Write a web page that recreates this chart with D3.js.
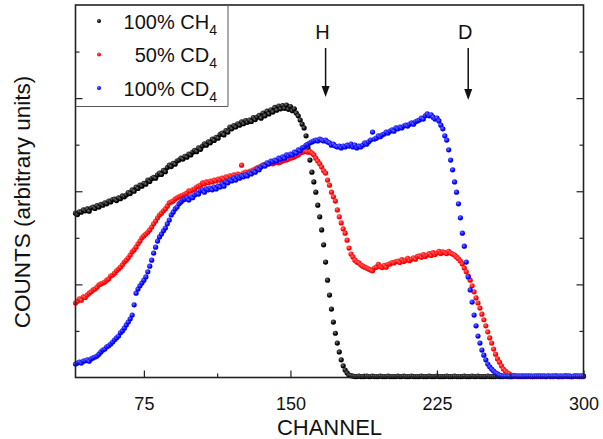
<!DOCTYPE html>
<html>
<head>
<meta charset="utf-8">
<script src="https://cdn.jsdelivr.net/npm/d3@7"></script>
<style>
  body { margin: 0; background: #fff; }
  svg { display: block; }
  text { font-family: "Liberation Sans", Arial, Helvetica, sans-serif; fill: #111; }
</style>
</head>
<body>
<svg id="chart" width="603" height="439"></svg>
<script>
// Spectra: one count value per channel, starting at channel 40.
const firstChannel = 40;

// 100% CH4
const countsCH4 = [
  3.53,3.50,3.56,3.55,3.60,3.58,3.62,3.57,3.64,3.66,
  3.63,3.69,3.66,3.72,3.70,3.75,3.73,3.79,3.77,3.82,
  3.83,3.80,3.86,3.84,3.90,3.88,3.92,3.97,3.95,4.03,
  4.00,4.09,4.06,4.13,4.11,4.17,4.15,4.24,4.21,4.27,
  4.30,4.28,4.35,4.39,4.36,4.45,4.42,4.51,4.56,4.53,
  4.60,4.58,4.65,4.67,4.71,4.69,4.75,4.73,4.80,4.78,
  4.84,4.88,4.85,4.93,4.90,4.97,5.02,4.99,5.06,5.04,
  5.12,5.09,5.16,5.14,5.22,5.25,5.21,5.30,5.27,5.38,
  5.34,5.41,5.38,5.45,5.42,5.49,5.45,5.52,5.48,5.53,
  5.50,5.58,5.54,5.59,5.63,5.57,5.68,5.62,5.72,5.66,
  5.75,5.70,5.80,5.74,5.83,5.77,5.84,5.78,5.85,5.76,
  5.82,5.73,5.77,5.68,5.62,5.53,5.44,5.36,5.19,4.93,
  4.67,4.41,4.20,3.98,3.70,3.45,3.17,2.85,2.48,2.09,
  1.77,1.47,1.19,0.95,0.74,0.55,0.38,0.25,0.16,0.10,
  0.05,0.04,0.03,0.02,0.02,0.03,0.02,0.02,0.02,0.03,
  0.02,0.02,0.03,0.02,0.02,0.02,0.03,0.02,0.02,0.02,
  0.03,0.02,0.02,0.02,0.02,0.03,0.02,0.02,0.03,0.02,
  0.02,0.02,0.03,0.02,0.02,0.02,0.02,0.03,0.02,0.02,
  0.02,0.03,0.02,0.02,0.02,0.03,0.02,0.02,0.02,0.02,
  0.03,0.02,0.02,0.02,0.03,0.02,0.02,0.02,0.02,0.03,
  0.02,0.02,0.02,0.03,0.02,0.02,0.03,0.02,0.02,0.02,
  0.02,0.03,0.02,0.02,0.02,0.02,0.03,0.02,0.02,0.02,
  0.03,0.02,0.02,0.02,0.02,0.03,0.02,0.02,0.02,0.03,
  0.02,0.02,0.03,0.02,0.02,0.02,0.02,0.03,0.02,0.02,
  0.02,0.02,0.03,0.02,0.02,0.02,0.03,0.02,0.02,0.02,
  0.02,0.03,0.02,0.02,0.02,0.02,0.03,0.02,0.02,0.02,
  0.02
];

// 50% CD4
const countsCD4Half = [
  1.60,1.64,1.69,1.66,1.73,1.72,1.77,1.81,1.84,1.88,
  1.90,1.94,1.99,2.01,2.03,2.05,2.09,2.12,2.18,2.20,
  2.24,2.29,2.33,2.37,2.42,2.48,2.52,2.57,2.63,2.70,
  2.74,2.80,2.87,2.93,3.00,3.04,3.08,3.12,3.17,3.23,
  3.30,3.36,3.43,3.49,3.53,3.58,3.62,3.68,3.75,3.77,
  3.79,3.83,3.86,3.88,3.90,3.92,3.94,3.96,4.01,4.00,
  4.03,4.05,4.09,4.11,4.13,4.18,4.16,4.20,4.18,4.22,
  4.20,4.24,4.22,4.26,4.24,4.28,4.26,4.31,4.28,4.33,
  4.31,4.35,4.33,4.37,4.35,4.56,4.39,4.41,4.39,4.43,
  4.44,4.46,4.48,4.50,4.52,4.54,4.56,4.57,4.58,4.59,
  4.61,4.59,4.61,4.63,4.61,4.63,4.65,4.67,4.67,4.69,
  4.71,4.72,4.74,4.76,4.78,4.82,4.84,4.85,4.86,4.84,
  4.85,4.82,4.78,4.71,4.65,4.59,4.52,4.44,4.39,4.24,
  4.13,3.98,3.88,3.79,3.60,3.45,3.32,3.19,3.10,2.95,
  2.78,2.65,2.59,2.52,2.48,2.46,2.42,2.39,2.37,2.35,
  2.33,2.31,2.29,2.35,2.37,2.43,2.38,2.36,2.41,2.37,
  2.43,2.44,2.47,2.46,2.49,2.50,2.47,2.53,2.49,2.52,
  2.56,2.51,2.54,2.57,2.54,2.60,2.61,2.58,2.64,2.60,
  2.63,2.66,2.62,2.68,2.64,2.67,2.71,2.66,2.70,2.68,
  2.66,2.71,2.67,2.65,2.63,2.59,2.55,2.50,2.44,2.35,
  2.27,2.18,2.09,1.97,1.84,1.71,1.60,1.49,1.36,1.24,
  1.11,0.98,0.85,0.74,0.61,0.50,0.40,0.33,0.25,0.18,
  0.14,0.10,0.08,0.05,0.04,0.03,0.03,0.03,0.03,0.03,
  0.03,0.03,0.02,0.03,0.03,0.03,0.03,0.02,0.03,0.03,
  0.03,0.03,0.03,0.02,0.03,0.03,0.03,0.03,0.03,0.02,
  0.03,0.03,0.03,0.03,0.02,0.03,0.03,0.03,0.03,0.03,
  0.03
];

// 100% CD4
const countsCD4Full = [
  0.29,0.31,0.33,0.31,0.35,0.36,0.38,0.35,0.40,0.42,
  0.44,0.46,0.50,0.55,0.59,0.61,0.66,0.68,0.72,0.76,
  0.81,0.85,0.89,0.96,1.00,1.06,1.13,1.19,1.26,1.34,
  1.56,1.81,1.90,1.97,2.03,2.09,2.16,2.27,2.39,2.52,
  2.67,2.80,2.93,3.02,3.08,3.15,3.21,3.30,3.38,3.49,
  3.55,3.62,3.66,3.73,3.77,3.81,3.83,3.86,3.81,3.88,
  3.86,3.92,3.96,3.94,4.01,4.03,3.98,4.05,4.03,4.07,
  4.03,4.09,4.05,4.11,4.09,4.16,4.11,4.20,4.18,4.24,
  4.22,4.28,4.24,4.31,4.28,4.33,4.31,4.35,4.33,4.39,
  4.37,4.43,4.41,4.48,4.46,4.52,4.56,4.54,4.61,4.59,
  4.65,4.63,4.67,4.65,4.71,4.69,4.74,4.71,4.78,4.76,
  4.80,4.78,4.84,4.82,4.89,4.87,4.93,4.95,4.99,5.01,
  5.04,5.06,5.08,5.10,5.08,5.12,5.10,5.08,5.10,5.06,
  5.04,4.99,5.01,4.97,4.95,4.97,4.93,4.97,4.95,4.99,
  4.97,5.01,4.95,4.99,4.93,4.97,4.95,4.99,5.04,5.01,
  5.06,5.10,5.27,5.12,5.14,5.19,5.17,5.21,5.23,5.27,
  5.25,5.29,5.32,5.29,5.36,5.34,5.38,5.36,5.40,5.42,
  5.40,5.44,5.47,5.44,5.49,5.51,5.53,5.57,5.55,5.62,
  5.66,5.62,5.64,5.59,5.55,5.57,5.51,5.42,5.34,5.19,
  5.10,4.89,4.67,4.46,4.20,3.98,3.73,3.43,3.10,2.82,
  2.48,2.16,1.88,1.62,1.34,1.11,0.89,0.74,0.59,0.48,
  0.38,0.29,0.23,0.18,0.14,0.10,0.08,0.05,0.04,0.03,
  0.03,0.03,0.03,0.02,0.03,0.03,0.03,0.03,0.03,0.02,
  0.03,0.03,0.03,0.03,0.02,0.03,0.03,0.03,0.03,0.03,
  0.03,0.02,0.03,0.03,0.03,0.03,0.03,0.02,0.03,0.03,
  0.03,0.03,0.03,0.03,0.02,0.03,0.03,0.03,0.03,0.03,
  0.03
];

const seriesLabels = ["100% CH", " 50% CD", "100% CD"];
const seriesSubscripts = ["4", "4", "4"];
const seriesColors = ["#000000", "#ff0000", "#0000ff"];

const xTickValues = [75, 150, 225, 300];
const xMinorTickValues = [112.5, 187.5, 262.5];
const yMajorTickValues = [2, 4, 6];
const yMinorTickValues = [1, 3, 5, 7];

const markerLabels = ["H", "D"];
const markerChannels = [168, 241];

// ---- layout ----
const svg = d3.select("#chart");
const plot = { left: 75.5, right: 583.5, top: 5, bottom: 377.5 };

const x = d3.scaleLinear().domain([40, 300]).range([plot.left, plot.right]);
const y = d3.scaleLinear().domain([0, 8]).range([plot.bottom, plot.top]);

// shaded-ball gradients for the markers
const defs = svg.append("defs");
seriesColors.forEach((c, i) => {
  const g = defs.append("radialGradient")
    .attr("id", "ball" + i)
    .attr("cx", "38%").attr("cy", "35%").attr("r", "65%");
  g.append("stop").attr("offset", "0%").attr("stop-color", d3.interpolateRgb(c, "#fff")(0.45));
  g.append("stop").attr("offset", "70%").attr("stop-color", c);
});

// data series
const allSeries = [countsCH4, countsCD4Half, countsCD4Full];
allSeries.forEach((vals, si) => {
  svg.append("g")
    .selectAll("circle")
    .data(vals)
    .join("circle")
    .attr("cx", (d, i) => x(firstChannel + i))
    .attr("cy", d => y(d))
    .attr("r", 2.6)
    .attr("fill", `url(#ball${si})`);
});

// axes: ticks point into the plot
const axisColor = "#222";
const bottomAxis = d3.axisBottom(x).tickValues(xTickValues).tickSizeInner(-7).tickSizeOuter(0).tickPadding(20);
const gx = svg.append("g").attr("transform", `translate(0,${plot.bottom})`).call(bottomAxis);
gx.select(".domain").remove();
gx.selectAll("line").attr("stroke", axisColor).attr("stroke-width", 1.2);
gx.selectAll("text").attr("font-size", 18).attr("fill", "#111")
  .style("font-family", '"Liberation Sans", Arial, sans-serif');

const bottomMinor = d3.axisBottom(x).tickValues(xMinorTickValues).tickSizeInner(-4).tickSizeOuter(0).tickFormat("");
const gxm = svg.append("g").attr("transform", `translate(0,${plot.bottom})`).call(bottomMinor);
gxm.select(".domain").remove();
gxm.selectAll("line").attr("stroke", axisColor).attr("stroke-width", 1.2);

function yTicks(axisFn, xpos, values, len) {
  const a = axisFn(y).tickValues(values).tickSizeInner(len).tickSizeOuter(0).tickFormat("");
  const g = svg.append("g").attr("transform", `translate(${xpos},0)`).call(a);
  g.select(".domain").remove();
  g.selectAll("line").attr("stroke", axisColor).attr("stroke-width", 1.2);
}
yTicks(d3.axisLeft, plot.left, yMajorTickValues, -7);
yTicks(d3.axisLeft, plot.left, yMinorTickValues, -4);
yTicks(d3.axisRight, plot.right, yMajorTickValues, -7);
yTicks(d3.axisRight, plot.right, yMinorTickValues, -4);

// frame
svg.append("rect")
  .attr("x", plot.left).attr("y", plot.top)
  .attr("width", plot.right - plot.left).attr("height", plot.bottom - plot.top)
  .attr("fill", "none").attr("stroke", axisColor).attr("stroke-width", 1.6);

// axis titles
svg.append("text")
  .attr("x", (plot.left + plot.right) / 2).attr("y", 435)
  .attr("text-anchor", "middle").attr("font-size", 22)
  .text("CHANNEL");

svg.append("text")
  .attr("transform", "translate(30,202) rotate(-90)")
  .attr("text-anchor", "middle").attr("font-size", 22.5)
  .text("COUNTS (arbitrary units)");

// legend
const legend = { left: plot.left, top: plot.top, right: 228, bottom: 106.5 };
svg.append("path")
  .attr("d", `M${legend.left},${legend.bottom}H${legend.right}V${legend.top}`)
  .attr("fill", "none").attr("stroke", "#555").attr("stroke-width", 1);

seriesLabels.forEach((lab, i) => {
  const rowY = 21 + i * 33.5;
  svg.append("circle")
    .attr("cx", 99).attr("cy", rowY).attr("r", 2)
    .attr("fill", `url(#ball${i})`);
  const t = svg.append("text")
    .attr("x", 217).attr("y", rowY + 7.5)
    .attr("text-anchor", "end").attr("font-size", 20)
    .attr("xml:space", "preserve");
  t.append("tspan").text(lab);
  t.append("tspan").attr("dy", 6).attr("font-size", 14).text(seriesSubscripts[i]);
});

// H / D markers with downward arrows
markerLabels.forEach((lab, i) => {
  const mx = x(markerChannels[i]);
  svg.append("text")
    .attr("x", mx - 3).attr("y", 39)
    .attr("text-anchor", "middle").attr("font-size", 20)
    .text(lab);
  const tip = i === 0 ? 97 : 100;
  svg.append("line")
    .attr("x1", mx).attr("x2", mx).attr("y1", 48).attr("y2", tip - 8)
    .attr("stroke", "#111").attr("stroke-width", 1.5);
  svg.append("path")
    .attr("d", `M${mx - 4},${tip - 11}L${mx + 4},${tip - 11}L${mx},${tip}Z`)
    .attr("fill", "#111");
});
</script>
</body>
</html>
